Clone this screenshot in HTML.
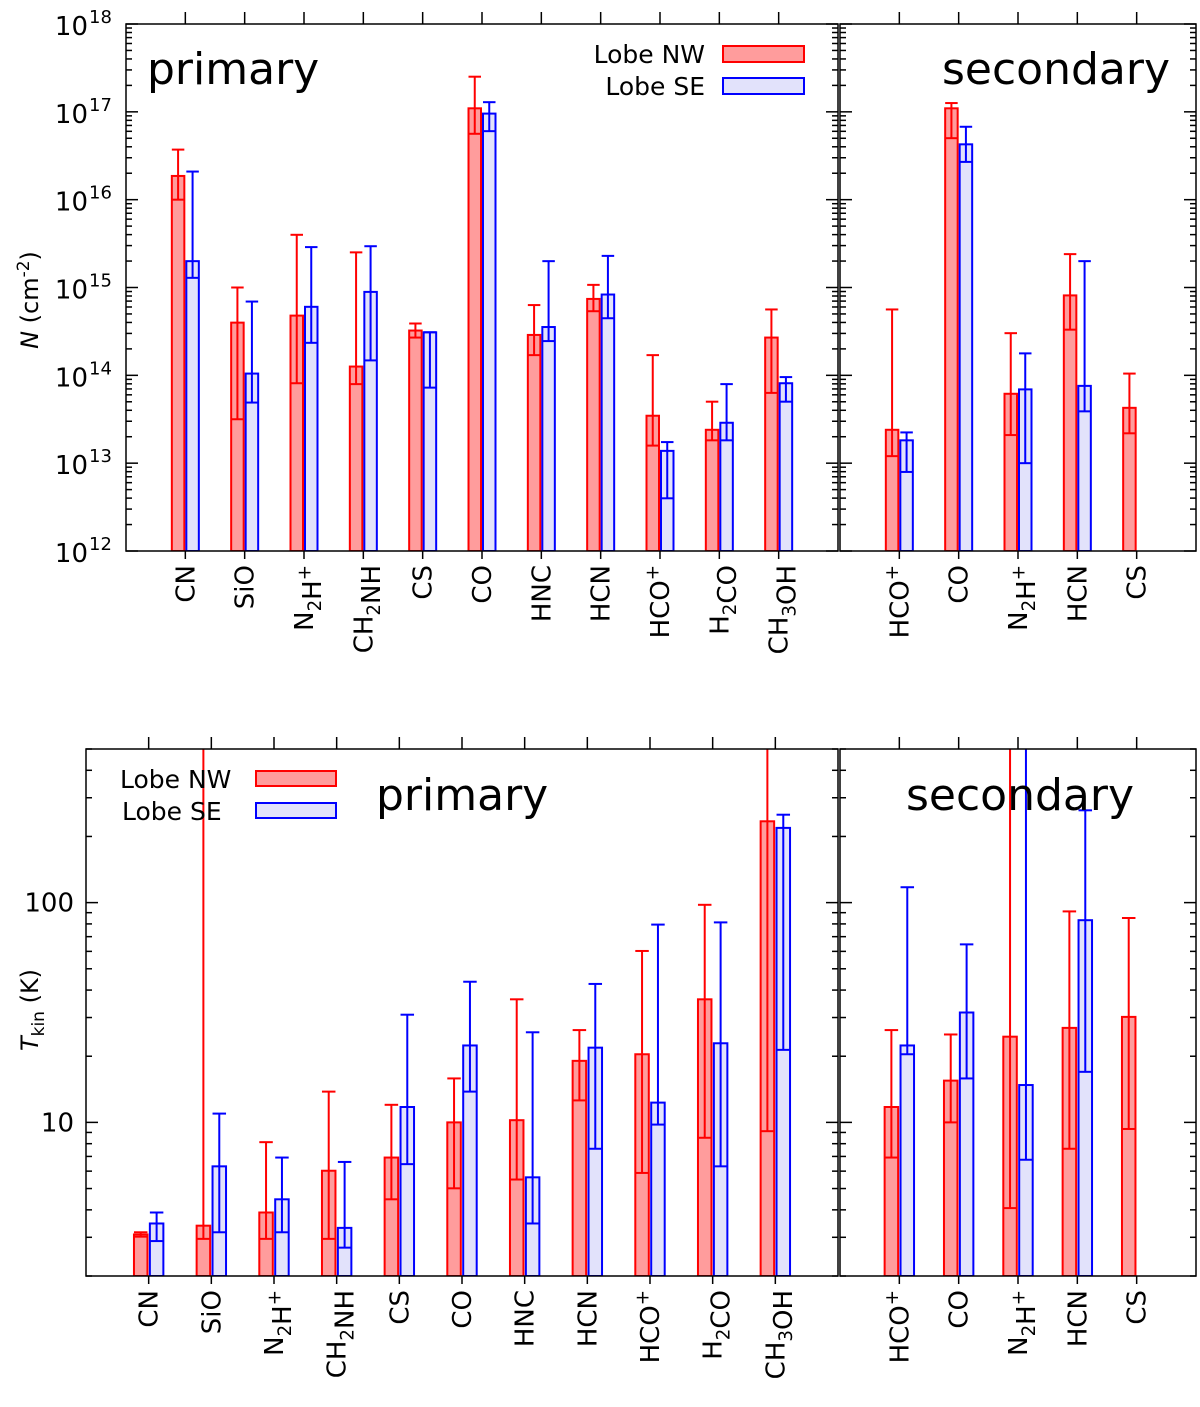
<!DOCTYPE html>
<html><head><meta charset="utf-8">
<style>
html,body{margin:0;padding:0;background:#fff;}
svg{display:block;font-family:"DejaVu Sans","Liberation Sans",sans-serif;}
</style></head>
<body>
<svg id="chart" width="1200" height="1407" viewBox="0 0 1200 1407" xmlns="http://www.w3.org/2000/svg"></svg>
<script>
// ---- Data: top panels, log10 column density N (cm^-2) ----
const catsPrimary = ['CN','SiO','N2H+','CH2NH','CS','CO','HNC','HCN','HCO+','H2CO','CH3OH'];
const catsSecondary = ['HCO+','CO','N2H+','HCN','CS'];
const nPrimNW    = [16.27,14.60,14.68,14.10,14.51,17.04,14.46,14.87,13.54,13.38,14.43];
const nPrimNWlo  = [16.00,13.50,13.91,13.90,14.43,16.75,14.23,14.73,13.20,13.26,13.80];
const nPrimNWhi  = [16.57,15.00,15.60,15.40,14.59,17.40,14.80,15.03,14.23,13.70,14.75];
const nPrimSE    = [15.30,14.02,14.78,14.95,14.49,16.98,14.55,14.92,13.14,13.46,13.91];
const nPrimSElo  = [15.11,13.69,14.37,14.17,13.86,16.78,14.39,14.65,12.60,13.26,13.70];
const nPrimSEhi  = [16.32,14.84,15.46,15.47,14.49,17.11,15.30,15.36,13.24,13.90,13.98];
const nSecNW     = [13.38,17.04,13.79,14.91,13.63];
const nSecNWlo   = [13.08,16.70,13.32,14.52,13.34];
const nSecNWhi   = [14.75,17.10,14.48,15.38,14.02];
const nSecSE     = [13.26,16.63,13.84,13.88,null];
const nSecSElo   = [12.90,16.43,13.00,13.59,null];
const nSecSEhi   = [13.35,16.83,14.25,15.30,null];
// ---- Data: bottom panels, log10 T_kin (K) ----
const tPrimNW    = [0.49,0.53,0.59,0.78,0.84,1.00,1.01,1.28,1.31,1.56,2.37];
const tPrimNWlo  = [0.48,0.47,0.47,0.47,0.65,0.70,0.74,1.10,0.77,0.93,0.96];
const tPrimNWhi  = [0.50,3.00,0.91,1.14,1.08,1.20,1.56,1.42,1.78,1.99,3.00];
const tPrimSE    = [0.54,0.80,0.65,0.52,1.07,1.35,0.75,1.34,1.09,1.36,2.34];
const tPrimSElo  = [0.46,0.50,0.50,0.43,0.81,1.14,0.54,0.88,0.99,0.80,1.33];
const tPrimSEhi  = [0.59,1.04,0.84,0.82,1.49,1.64,1.41,1.63,1.90,1.91,2.40];
const tSecNW     = [1.07,1.19,1.39,1.43,1.48];
const tSecNWlo   = [0.84,1.00,0.61,0.88,0.97];
const tSecNWhi   = [1.42,1.40,3.00,1.96,1.93];
const tSecSE     = [1.35,1.50,1.17,1.92,null];
const tSecSElo   = [1.31,1.20,0.83,1.23,null];
const tSecSEhi   = [2.07,1.81,3.00,2.42,null];
const nTickExps = [12,13,14,15,16,17,18];
const tTickVals = [10,100];

const NS='http://www.w3.org/2000/svg';
const svg=document.getElementById('chart');
function el(tag,attrs,parent){const e=document.createElementNS(NS,tag);for(const k in attrs)e.setAttribute(k,attrs[k]);(parent||svg).appendChild(e);return e;}
const RED='#ff0000',REDF='#ff9c9c',BLUE='#0000ff',BLUEF='#e2e2fb';
let clipId=0;

function labelText(parent,str,x,y,size,anchor,rot){
  const t=el('text',{x:x,y:y,'font-size':size,'text-anchor':anchor,fill:'#000'},parent);
  if(rot)t.setAttribute('transform','rotate(-90 '+x+' '+y+')');
  let i=0;
  while(i<str.length){
    const c=str[i];
    if(/[0-9]/.test(c)&&i>0){
      const s=el('tspan',{'font-size':size*0.7,dy:size*0.3},t);s.textContent=c;
      const r=el('tspan',{dy:-size*0.3},t);r.textContent='';
      i++;continue;
    }
    if(c==='+'){
      const s=el('tspan',{'font-size':size*0.7,dy:-size*0.4},t);s.textContent='+';
      i++;continue;
    }
    let j=i;while(j<str.length&&!(/[0-9+]/.test(str[j])&&j>0))j++;
    if(j===i)j=i+1;
    const s=el('tspan',{},t);s.textContent=str.slice(i,j);i=j;
  }
  return t;
}

function panel(p){
  const g=el('g',{});
  
  
  const n=p.cats.length, slot=(p.x1-p.x0)/(n+1);
  const xc=i=>p.x0+slot*(i+1);
  const yv=v=>p.y1-(v-p.lmin)/(p.lmax-p.lmin)*(p.y1-p.y0);
  const cid='clip'+(clipId++);
  const cp=el('clipPath',{id:cid},g);el('rect',{x:p.x0,y:p.y0,width:p.x1-p.x0,height:p.y1-p.y0},cp);
  const data=el('g',{'clip-path':'url(#'+cid+')'},g);
  const series=[[p.nw,p.nwlo,p.nwhi,RED,REDF,-1,'nw'],[p.se,p.selo,p.sehi,BLUE,BLUEF,1,'se']];
  series.forEach(s=>{
    const [v,lo,hi,col,fill,side,key]=s;
    v.forEach((val,i)=>{
      if(val===null)return;
      const c=xc(i);
      const bx=side<0?c-p.bw-p.gap:c+p.gap;
      const top=yv(val);
      const bar=el('rect',{x:bx,y:top,width:p.bw,height:p.y1-top,fill:fill,stroke:col,'stroke-width':2},data);
      
      
      const ex=bx+p.bw/2,yl=yv(lo[i]),yh=yv(hi[i]);
      const eg=el('g',{stroke:col,'stroke-width':2,fill:'none'},data);
      
      
      el('line',{x1:ex,x2:ex,y1:yl,y2:yh},eg);
      el('line',{x1:bx,x2:bx+p.bw,y1:yl,y2:yl},eg);
      el('line',{x1:bx,x2:bx+p.bw,y1:yh,y2:yh},eg);
    });
  });
  el('rect',{x:p.x0,y:p.y0,width:p.x1-p.x0,height:p.y1-p.y0,fill:'none',stroke:'#000','stroke-width':1.5},g);
  const ax=el('g',{stroke:'#000','stroke-width':1.5},g);
  for(let d=Math.floor(p.lmin);d<=Math.ceil(p.lmax);d++){
    for(let m=1;m<=9;m++){
      const lv=d+Math.log10(m);
      if(lv<p.lmin-1e-6||lv>p.lmax+1e-6)continue;
      const y=yv(lv),len=m===1?12:6;
      el('line',{x1:p.x0,x2:p.x0+len,y1:y,y2:y},ax);
      el('line',{x1:p.x1,x2:p.x1-len,y1:y,y2:y},ax);
    }
  }
  p.cats.forEach((c,i)=>{
    el('line',{x1:xc(i),x2:xc(i),y1:p.y0,y2:p.y0-12},ax);
    el('line',{x1:xc(i),x2:xc(i),y1:p.y1,y2:p.y1+8},ax);
    const lt=labelText(g,c,xc(i)+9,p.y1+14,26,'end',true);
    
    
  });
  return {xc,yv};
}

const top1=panel({name:'n-primary-panel',cats:catsPrimary,x0:126,x1:838,y0:24,y1:551,lmin:12,lmax:18,bw:12.5,gap:1,
  nw:nPrimNW,nwlo:nPrimNWlo,nwhi:nPrimNWhi,se:nPrimSE,selo:nPrimSElo,sehi:nPrimSEhi});
panel({name:'n-secondary-panel',cats:catsSecondary,x0:840,x1:1196,y0:24,y1:551,lmin:12,lmax:18,bw:12.5,gap:1,
  nw:nSecNW,nwlo:nSecNWlo,nwhi:nSecNWhi,se:nSecSE,selo:nSecSElo,sehi:nSecSEhi});
const bot1=panel({name:'t-primary-panel',cats:catsPrimary,x0:86,x1:838,y0:749,y1:1276,lmin:Math.log10(2),lmax:Math.log10(500),bw:13.5,gap:1.2,
  nw:tPrimNW,nwlo:tPrimNWlo,nwhi:tPrimNWhi,se:tPrimSE,selo:tPrimSElo,sehi:tPrimSEhi});
panel({name:'t-secondary-panel',cats:catsSecondary,x0:840,x1:1196,y0:749,y1:1276,lmin:Math.log10(2),lmax:Math.log10(500),bw:13.5,gap:1.2,
  nw:tSecNW,nwlo:tSecNWlo,nwhi:tSecNWhi,se:tSecSE,selo:tSecSElo,sehi:tSecSEhi});

nTickExps.forEach(e=>{
  const y=top1.yv(e);
  const t=el('text',{x:88,y:y+11,'font-size':26,'text-anchor':'end'});
  
  
  t.textContent='10';
  const s=el('text',{x:89,y:y-1,'font-size':18});
  s.textContent=e;
});
tTickVals.forEach(v=>{
  const t=el('text',{x:74,y:bot1.yv(Math.log10(v))+9,'font-size':26,'text-anchor':'end'});
  
  
  t.textContent=v;
});
</script>
<script>
(function(){
const NS='http://www.w3.org/2000/svg';const svg=document.getElementById('chart');
function el(tag,attrs,txt){const e=document.createElementNS(NS,tag);for(const k in attrs)e.setAttribute(k,attrs[k]);if(txt!==undefined)e.textContent=txt;svg.appendChild(e);return e;}
el('text',{x:147,y:84,'font-size':44,},'primary');
el('text',{x:942,y:84,'font-size':44,},'secondary');
el('text',{x:376,y:810,'font-size':44,},'primary');
el('text',{x:906,y:810,'font-size':44,},'secondary');
el('text',{x:705,y:63,'font-size':25,'text-anchor':'end',},'Lobe NW');
el('rect',{x:723,y:46,width:81,height:16,fill:'#ff9c9c',stroke:'#ff0000','stroke-width':2,});
el('text',{x:705,y:95,'font-size':25,'text-anchor':'end',},'Lobe SE');
el('rect',{x:723,y:78,width:81,height:16,fill:'#e2e2fb',stroke:'#0000ff','stroke-width':2,});
el('text',{x:120,y:788,'font-size':25,},'Lobe NW');
el('rect',{x:256,y:771,width:80,height:15,fill:'#ff9c9c',stroke:'#ff0000','stroke-width':2,});
el('text',{x:122,y:820,'font-size':25,},'Lobe SE');
el('rect',{x:256,y:803,width:80,height:15,fill:'#e2e2fb',stroke:'#0000ff','stroke-width':2,});
const t1=el('text',{x:38,y:300,'font-size':24,'text-anchor':'middle',transform:'rotate(-90 38 300)',});
t1.innerHTML='<tspan font-style="italic">N</tspan> (cm<tspan font-size="17" dy="-9">-2</tspan><tspan dy="9">)</tspan>';
const t2=el('text',{x:38,y:1010,'font-size':24,'text-anchor':'middle',transform:'rotate(-90 38 1010)',});
t2.innerHTML='<tspan font-style="italic">T</tspan><tspan font-size="17" dy="6">kin</tspan><tspan dy="-6"> (K)</tspan>';
})();
</script>
</body></html>
